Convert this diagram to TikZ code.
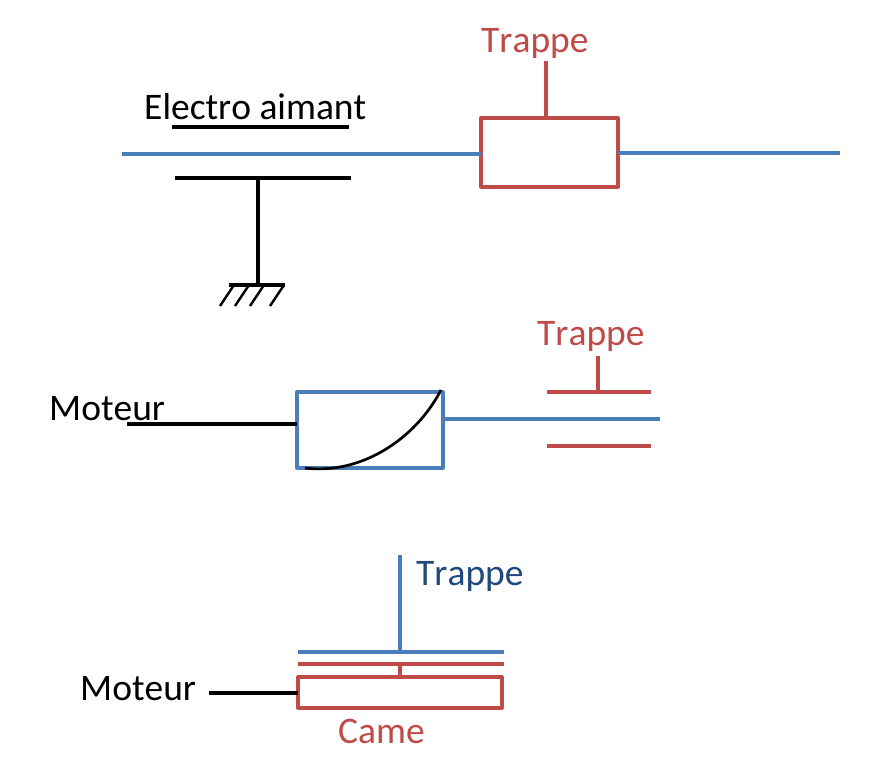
\documentclass[tikz,border=0pt]{standalone}
\usepackage{fontspec}
\setmainfont[Kerning=Off]{Carlito}
\definecolor{bleu}{HTML}{4A7EBB}
\definecolor{rouge}{HTML}{BE4B48}
\definecolor{bleufonce}{HTML}{1F497D}
\tikzset{
  trait/.style={line width=3.3pt},
  noir/.style={trait,black},
  bleue/.style={trait,bleu},
  rougee/.style={trait,rouge},
  boite/.style={draw,line width=3.3pt,inner sep=0pt,outer sep=0pt,line join=round,anchor=north west},
  etiq/.style={anchor=base west,inner sep=0pt,font=\fontsize{37.5pt}{40pt}\selectfont},
}

\begin{document}
\begin{tikzpicture}[x=1pt,y=-1pt]
  \useasboundingbox (0,0) rectangle (892,777);
  % electro aimant
  \node[etiq,black] (EA) at (144,119) {Electro aimant};
  \node[etiq,rouge] (T1) at (481,52) {Trappe};
  \node[boite,rouge,minimum width=137pt,minimum height=69pt] (B1) at (481,118) {};
  \coordinate (Ba) at (122,154);
  \coordinate (Bb) at (840,153);
  \coordinate (Ts) at (546,61);
  \coordinate (Pa) at (172,127);
  \coordinate (Pb) at (349,127);
  \coordinate (Pc) at (175,178);
  \coordinate (Pd) at (351,178);
  \coordinate (Pm) at (258,178);
  \coordinate (Ga) at (229,285);
  \coordinate (Gb) at (285,285);
  \coordinate (Gm) at (258,285);
  \draw[bleue] (Ba) -- (Ba -| B1.west);
  \draw[bleue] (B1.east |- Bb) -- (Bb);
  \draw[rougee] (Ts) -- (Ts |- B1.north);
  \draw[noir] (Pa) -- (Pb);
  \draw[noir] (Pc) -- (Pd);
  \draw[noir] (Pm) -- (Gm);
  \draw[noir] (Ga) -- (Gb);
  \foreach \x in {234,249,264,284}
    \draw[noir,line width=2.4pt] (\x,285) -- (\x-14,306);

  % moteur et came
  \node[etiq,black] (M2) at (49,420) {Moteur};
  \node[etiq,rouge] (T2) at (537,345) {Trappe};
  \node[boite,bleu,minimum width=146pt,minimum height=76pt] (B2) at (297,392) {};
  \coordinate (Ma) at (127,424);
  \coordinate (Ca) at (660,419);
  \coordinate (Ra) at (547,392);
  \coordinate (Rb) at (651,392);
  \coordinate (Rc) at (547,446);
  \coordinate (Rd) at (651,446);
  \coordinate (Rs) at (598,356);
  \draw[noir] (Ma) -- (Ma -| B2.west);
  \draw[bleue] (B2.east |- Ca) -- (Ca);
  \draw[rougee] (Ra) -- (Rb);
  \draw[rougee] (Rc) -- (Rd);
  \draw[rougee] (Rs) -- (Rs |- Ra);
  \draw[noir,line width=2.7pt] (305,468) .. controls (360,475) and (415,440) .. (441,390);

  % came et plateaux
  \node[etiq,black] (M3) at (80,700) {Moteur};
  \node[etiq,bleufonce] (T3) at (416,585) {Trappe};
  \node[etiq,rouge] (C3) at (338,743) {Came};
  \node[boite,rouge,minimum width=204pt,minimum height=31pt] (B3) at (298,677) {};
  \coordinate (Na) at (209,693);
  \coordinate (Sa) at (298,652);
  \coordinate (Sb) at (504,652);
  \coordinate (Sc) at (298,664);
  \coordinate (Sd) at (504,664);
  \coordinate (St) at (400,555);
  \draw[noir] (Na) -- (Na -| B3.west);
  \draw[bleue] (Sa) -- (Sb);
  \draw[rougee] (Sc) -- (Sd);
  \draw[bleue] (St) -- (St |- Sa);
  \draw[rougee] (St |- Sc) -- (St |- B3.north);
\end{tikzpicture}
\end{document}
